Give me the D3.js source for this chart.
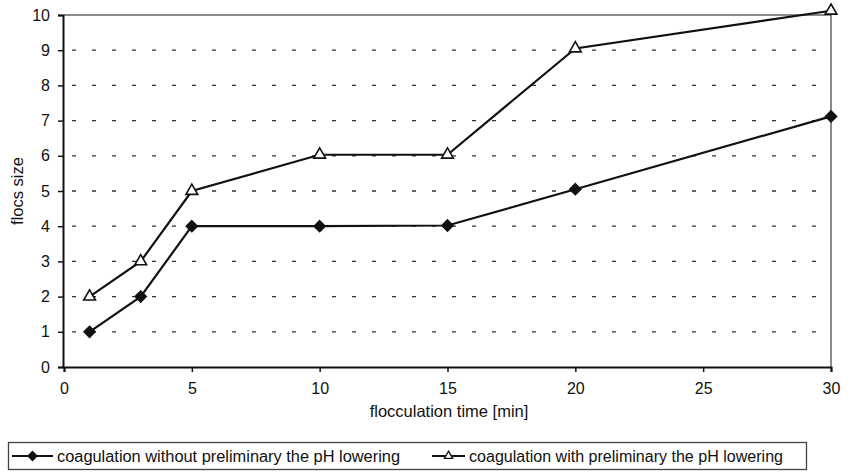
<!DOCTYPE html>
<html>
<head>
<meta charset="utf-8">
<script src="https://cdn.jsdelivr.net/npm/d3@7"></script>
<style>
  body { margin: 0; background: #fff; }
  text { font-family: "Liberation Sans", Arial, sans-serif; fill: #111; }
</style>
</head>
<body>
<div id="chart"></div>
<script>
// data
let times = [1, 3, 5, 10, 15, 20, 30];
let withoutLowering = [1, 2, 4, 4, 4.02, 5.05, 7.12];
let withLowering = [2, 3, 5, 6.03, 6.03, 9.05, 10.12];
let xTicks = [0, 5, 10, 15, 20, 25, 30];
let yTicks = [0, 1, 2, 3, 4, 5, 6, 7, 8, 9, 10];
let seriesNames = [
  "coagulation without preliminary the pH lowering",
  "coagulation with preliminary the pH lowering"
];

let width = 848;
let height = 473;
let padding = { left: 63, right: 17, top: 15, bottom: 106 };

let xScale = d3.scaleLinear()
  .domain([0, 30])
  .range([padding.left + 1, width - padding.right]);
let yScale = d3.scaleLinear()
  .domain([0, 10])
  .range([height - padding.bottom, padding.top]);

let svg = d3.select("#chart")
  .append("svg")
  .attr("width", width)
  .attr("height", height);

// gridlines (dashed)
svg.append("g")
  .selectAll("line")
  .data(yTicks.filter(d => d > 0 && d < 10))
  .enter()
  .append("line")
  .attr("x1", xScale(0))
  .attr("x2", xScale(30))
  .attr("y1", d => yScale(d))
  .attr("y2", d => yScale(d))
  .attr("stroke", "#333")
  .attr("stroke-width", 1.3)
  .attr("stroke-dasharray", "4,16")
  .attr("stroke-dashoffset", -8);

// top and right border of plot area
svg.append("path")
  .attr("d", `M${xScale(0)},${yScale(10)}H${xScale(30)}V${yScale(0)}`)
  .attr("fill", "none")
  .attr("stroke", "#666")
  .attr("stroke-width", 1.5);

// Y axis
let yAxis = d3.axisLeft(yScale)
  .tickValues(yTicks)
  .tickSize(5)
  .tickPadding(8);
let gy = svg.append("g")
  .attr("transform", `translate(${padding.left}, 0)`)
  .call(yAxis);
gy.select(".domain").attr("stroke", "#111").attr("stroke-width", 2);
gy.selectAll(".tick line").attr("stroke", "#111").attr("stroke-width", 1.5);
gy.selectAll(".tick text")
  .style("font-size", "16px")
  .style("font-family", "'Liberation Sans', Arial, sans-serif")
  .attr("fill", "#111");

// X axis
let xAxis = d3.axisBottom(xScale)
  .tickValues(xTicks)
  .tickSize(5)
  .tickPadding(11);
let gx = svg.append("g")
  .attr("transform", `translate(0, ${height - padding.bottom})`)
  .call(xAxis);
gx.select(".domain").attr("stroke", "#111").attr("stroke-width", 2);
gx.selectAll(".tick line").attr("stroke", "#111").attr("stroke-width", 1.5);
gx.selectAll(".tick text")
  .style("font-size", "16px")
  .style("font-family", "'Liberation Sans', Arial, sans-serif")
  .attr("fill", "#111");

// axis labels
svg.append("text")
  .attr("x", 449)
  .attr("y", 417)
  .style("text-anchor", "middle")
  .style("font-size", "16.5px")
  .text("flocculation time [min]");
svg.append("text")
  .attr("transform", `translate(23, ${(yScale(0) + yScale(10)) / 2}) rotate(-90)`)
  .style("text-anchor", "middle")
  .style("font-size", "16.5px")
  .text("flocs size");

// lines
let line = d3.line()
  .x(d => xScale(d[0]))
  .y(d => yScale(d[1]));

// rotated square gives a wider diamond than d3.symbolDiamond
let diamond = "M0,-5.5L5.5,0L0,5.5L-5.5,0Z";
let triangle = d3.symbol().type(d3.symbolTriangle).size(60)();

let series = [
  { values: withoutLowering, shape: diamond, fill: "#111" },
  { values: withLowering, shape: triangle, fill: "#fff" }
];

series.forEach(s => {
  let pts = times.map((t, i) => [t, s.values[i]]);
  svg.append("path")
    .datum(pts)
    .attr("d", line)
    .attr("fill", "none")
    .attr("stroke", "#111")
    .attr("stroke-width", 2.2);
  svg.append("g")
    .selectAll("path")
    .data(pts)
    .enter()
    .append("path")
    .attr("transform", d => `translate(${xScale(d[0])}, ${yScale(d[1])})`)
    .attr("d", s.shape)
    .attr("fill", s.fill)
    .attr("stroke", "#111")
    .attr("stroke-width", 1.6);
});

// legend
let legend = svg.append("g");
legend.append("rect")
  .attr("x", 8.5)
  .attr("y", 442.5)
  .attr("width", 798)
  .attr("height", 27)
  .attr("fill", "none")
  .attr("stroke", "#444")
  .attr("stroke-width", 1.3);

let legendItems = [
  { x: 12, name: seriesNames[0], fill: "#111" },
  { x: 432, name: seriesNames[1], fill: "#fff" }
];
legendItems.forEach((item, i) => {
  let lineLen = i === 0 ? 41 : 33;
  legend.append("line")
    .attr("x1", item.x)
    .attr("x2", item.x + lineLen)
    .attr("y1", 456)
    .attr("y2", 456)
    .attr("stroke", "#111")
    .attr("stroke-width", 2);
  legend.append("path")
    .attr("transform", `translate(${item.x + lineLen / 2}, 456)`)
    .attr("d", i === 0 ? "M0,-4.5L4.5,0L0,4.5L-4.5,0Z" : d3.symbol().type(d3.symbolTriangle).size(30)())
    .attr("fill", item.fill)
    .attr("stroke", "#111")
    .attr("stroke-width", 1.3);
  legend.append("text")
    .attr("x", item.x + lineLen + 4)
    .attr("y", 461.5)
    .style("font-size", "16px")
    .attr("textLength", i === 0 ? 343 : 314)
    .attr("lengthAdjust", "spacingAndGlyphs")
    .text(item.name);
});
</script>
</body>
</html>
